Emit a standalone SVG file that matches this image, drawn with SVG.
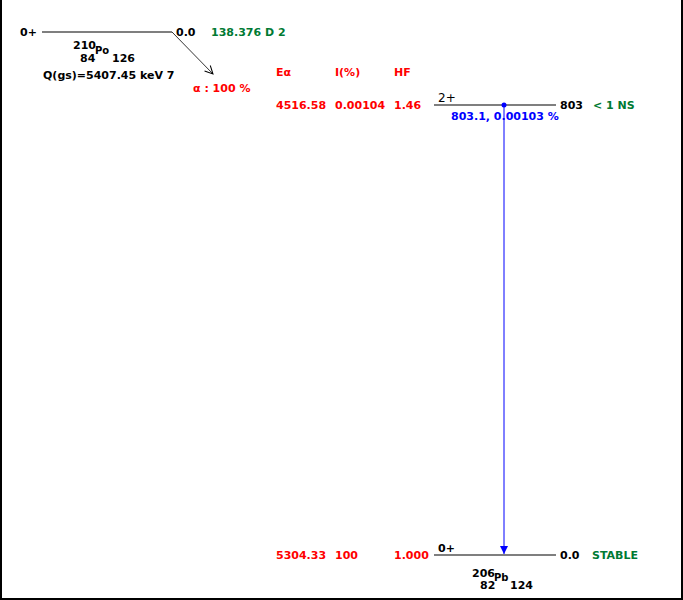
<svg xmlns="http://www.w3.org/2000/svg" width="683" height="600" viewBox="0 0 683 600">
<style>
text{font-family:"DejaVu Sans",Verdana,sans-serif;font-weight:bold;font-size:11px}
.k{fill:#000}.r{fill:#ff0000}.g{fill:#007a33}.b{fill:#0000ff}
.lvl{stroke:#000;stroke-width:1.2}
</style>
<defs>
<marker id="ak" markerWidth="10" markerHeight="10" refX="9" refY="5" orient="auto" markerUnits="userSpaceOnUse"><path d="M1,1 L9,5 L1,9" fill="none" stroke="#000" stroke-width="1"/></marker>
<marker id="ab" markerWidth="10" markerHeight="10" refX="8" refY="4" orient="auto" markerUnits="userSpaceOnUse"><path d="M0,0 L8,4 L0,8 Z" fill="#0000ff"/></marker>
</defs>
<rect x="0" y="0" width="683" height="600" fill="#fff"/>
<path d="M1,0 V599 H682 V0" fill="none" stroke="#000" stroke-width="2"/>
<g id="parent">
<line class="lvl" x1="42" y1="32" x2="172" y2="32"/>
<text class="k" x="20" y="36">0+</text>
<text class="k" x="176" y="36">0.0</text>
<text class="g" x="211" y="36">138.376 D 2</text>
<text class="k" x="73" y="49">210</text>
<text class="k" x="95" y="54" style="font-size:10px">Po</text>
<text class="k" x="80" y="62">84</text>
<text class="k" x="112" y="62">126</text>
<text class="k" x="43" y="79">Q(gs)=5407.45 keV 7</text>
<text class="r" x="193" y="92">α : 100 %</text>
</g>
<g id="header">
<text class="r" x="276" y="76">Eα</text>
<text class="r" x="335" y="76">I(%)</text>
<text class="r" x="394" y="76">HF</text>
</g>
<g id="level803">
<line class="lvl" x1="434" y1="105" x2="556" y2="105"/>
<text class="r" x="276" y="109">4516.58</text>
<text class="r" x="335" y="109">0.00104</text>
<text class="r" x="394" y="109">1.46</text>
<text class="k" x="438" y="102" style="font-weight:normal;font-size:12px">2+</text>
<text class="k" x="560" y="109">803</text>
<text class="g" x="593" y="109">&lt; 1 NS</text>
<text class="b" x="451" y="120">803.1, 0.00103 %</text>
</g>
<g id="level0">
<line class="lvl" x1="434" y1="555" x2="556" y2="555"/>
<text class="r" x="276" y="559">5304.33</text>
<text class="r" x="335" y="559">100</text>
<text class="r" x="394" y="559">1.000</text>
<text class="k" x="438" y="552">0+</text>
<text class="k" x="560" y="559">0.0</text>
<text class="g" x="592" y="559">STABLE</text>
<text class="k" x="472" y="577">206</text>
<text class="k" x="494" y="581" style="font-size:10px">Pb</text>
<text class="k" x="480" y="589">82</text>
<text class="k" x="510" y="589">124</text>
</g>
<g id="connectors">
<line x1="172" y1="32" x2="213" y2="74" stroke="#000" stroke-width="0.8" marker-end="url(#ak)"/>
<circle cx="504" cy="105" r="2.5" fill="#0000ff"/>
<line x1="504" y1="105" x2="504" y2="554" stroke="#0000ff" stroke-width="1" marker-end="url(#ab)"/>
</g>
</svg>
